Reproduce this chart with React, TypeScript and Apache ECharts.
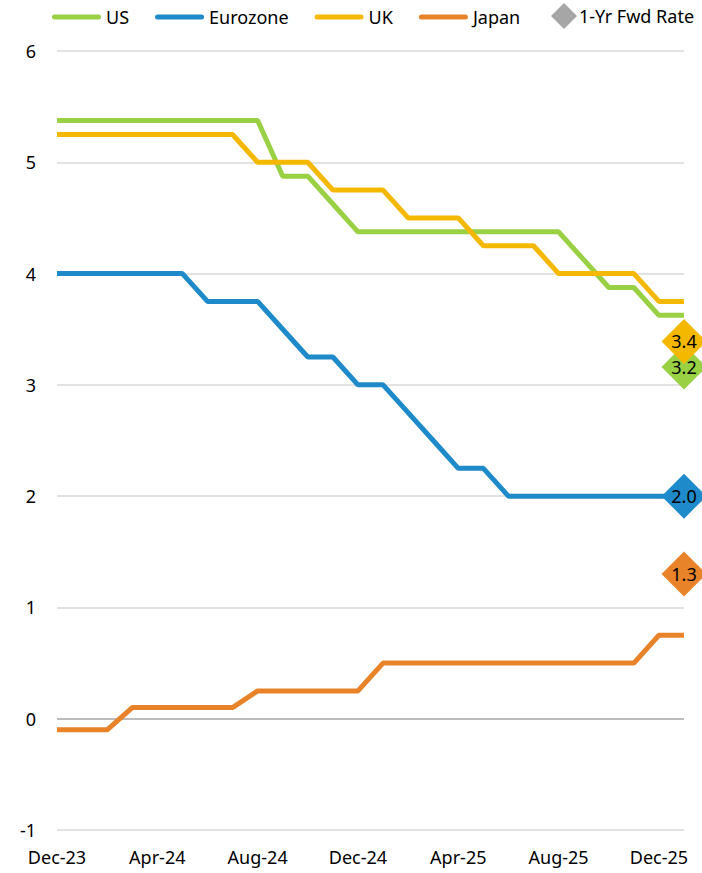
import React, { useEffect, useRef } from "react";
import * as echarts from "echarts";

// Monthly policy rates, Dec-23 through Jan-26
const months: string[] = [
  "Dec-23", "Jan-24", "Feb-24", "Mar-24", "Apr-24", "May-24", "Jun-24", "Jul-24",
  "Aug-24", "Sep-24", "Oct-24", "Nov-24", "Dec-24", "Jan-25", "Feb-25", "Mar-25",
  "Apr-25", "May-25", "Jun-25", "Jul-25", "Aug-25", "Sep-25", "Oct-25", "Nov-25",
  "Dec-25", "Jan-26",
];

const usRate: number[] = [
  5.375, 5.375, 5.375, 5.375, 5.375, 5.375, 5.375, 5.375,
  5.375, 4.875, 4.875, 4.625, 4.375, 4.375, 4.375, 4.375,
  4.375, 4.375, 4.375, 4.375, 4.375, 4.125, 3.875, 3.875,
  3.625, 3.625,
];

const eurozoneRate: number[] = [
  4.0, 4.0, 4.0, 4.0, 4.0, 4.0, 3.75, 3.75,
  3.75, 3.5, 3.25, 3.25, 3.0, 3.0, 2.75, 2.5,
  2.25, 2.25, 2.0, 2.0, 2.0, 2.0, 2.0, 2.0,
  2.0, 2.0,
];

const ukRate: number[] = [
  5.25, 5.25, 5.25, 5.25, 5.25, 5.25, 5.25, 5.25,
  5.0, 5.0, 5.0, 4.75, 4.75, 4.75, 4.5, 4.5,
  4.5, 4.25, 4.25, 4.25, 4.0, 4.0, 4.0, 4.0,
  3.75, 3.75,
];

const japanRate: number[] = [
  -0.1, -0.1, -0.1, 0.1, 0.1, 0.1, 0.1, 0.1,
  0.25, 0.25, 0.25, 0.25, 0.25, 0.5, 0.5, 0.5,
  0.5, 0.5, 0.5, 0.5, 0.5, 0.5, 0.5, 0.5,
  0.75, 0.75,
];

// 1-year forward rates, plotted at the last month (US, Eurozone, UK, Japan)
const fwdRates: number[] = [3.16, 2.0, 3.39, 1.3];

const seriesNames: string[] = ["US", "Eurozone", "UK", "Japan"];
const fwdName = "1-Yr Fwd Rate";

const colors: string[] = ["#99D044", "#1F8AC9", "#F5B800", "#E8832A"];
const fwdLegendColor = "#A6A6A6";
const FONT = "Noto Sans";

// Rounded bar used as the legend key of the rate lines (49 x 5)
const LINE_KEY = "path://M2.5,0H46.5A2.5,2.5 0 0 1 46.5,5H2.5A2.5,2.5 0 0 1 2.5,0Z";
// Diamond filling its whole legend box
const DIAMOND_KEY = "path://M11,0L22,11L11,22L0,11Z";

export default function App() {
  const ref = useRef<HTMLDivElement>(null);

  useEffect(() => {
    if (!ref.current) return;
    const chart = echarts.init(ref.current, undefined, { renderer: "svg" });

    const rates = [usRate, eurozoneRate, ukRate, japanRate];
    const lastMonth = months[months.length - 1];

    const lineSeries = rates.map((data, i) => ({
      name: seriesNames[i],
      type: "line",
      data,
      symbol: "none",
      lineStyle: { color: colors[i], width: 5 },
      itemStyle: { color: colors[i] },
      z: 2,
    }));

    const fwdSeries = {
      name: fwdName,
      type: "scatter",
      symbol: "diamond",
      symbolSize: 45,
      itemStyle: { color: fwdLegendColor, opacity: 1 },
      z: 5,
      data: fwdRates.map((v, i) => ({
        value: [lastMonth, v],
        itemStyle: { color: colors[i], opacity: 1 },
      })),
      label: {
        show: true,
        position: "inside",
        formatter: (p: any) => Number(p.value[1]).toFixed(1),
        color: "#000",
        fontFamily: FONT,
        fontSize: 18,
      },
    };

    // y = 0 line drawn darker than the other grid lines (-1 .. 6)
    const gridColors = ["#D9D9D9", "#A6A6A6", "#D9D9D9", "#D9D9D9", "#D9D9D9", "#D9D9D9", "#D9D9D9", "#D9D9D9"];

    const legendText = { fontFamily: FONT, fontSize: 18, color: "#000" };

    chart.setOption({
      animation: false,
      textStyle: { fontFamily: FONT },
      legend: [
        {
          left: 47,
          top: 3,
          itemWidth: 49,
          itemHeight: 22,
          itemGap: 26,
          symbolKeepAspect: true,
          textStyle: legendText,
          data: seriesNames.map((name) => ({ name, icon: LINE_KEY })),
        },
        {
          left: 551,
          top: 3,
          itemWidth: 26,
          itemHeight: 26,
          padding: 0,
          symbolKeepAspect: true,
          textStyle: { ...legendText, padding: [0, 0, 0, -3] },
          data: [{ name: fwdName, icon: DIAMOND_KEY }],
        },
      ],
      grid: { left: 57, right: 18, top: 51, bottom: 43, containLabel: false },
      xAxis: {
        type: "category",
        data: months,
        boundaryGap: false,
        axisLine: { show: false },
        axisTick: { show: false },
        splitLine: { show: false },
        axisLabel: {
          interval: 3,
          margin: 18,
          color: "#000",
          fontFamily: FONT,
          fontSize: 18,
        },
      },
      yAxis: {
        type: "value",
        min: -1,
        max: 6,
        interval: 1,
        axisLine: { show: false },
        axisTick: { show: false },
        axisLabel: {
          margin: 21,
          color: "#000",
          fontFamily: FONT,
          fontSize: 18,
        },
        splitLine: { show: true, lineStyle: { color: gridColors, width: 1.5 } },
      },
      series: [...lineSeries, fwdSeries],
    });

    return () => chart.dispose();
  }, []);

  return (
    <div
      ref={ref}
      style={{ position: "fixed", left: 0, top: 0, width: 702, height: 873, background: "#fff" }}
    />
  );
}
